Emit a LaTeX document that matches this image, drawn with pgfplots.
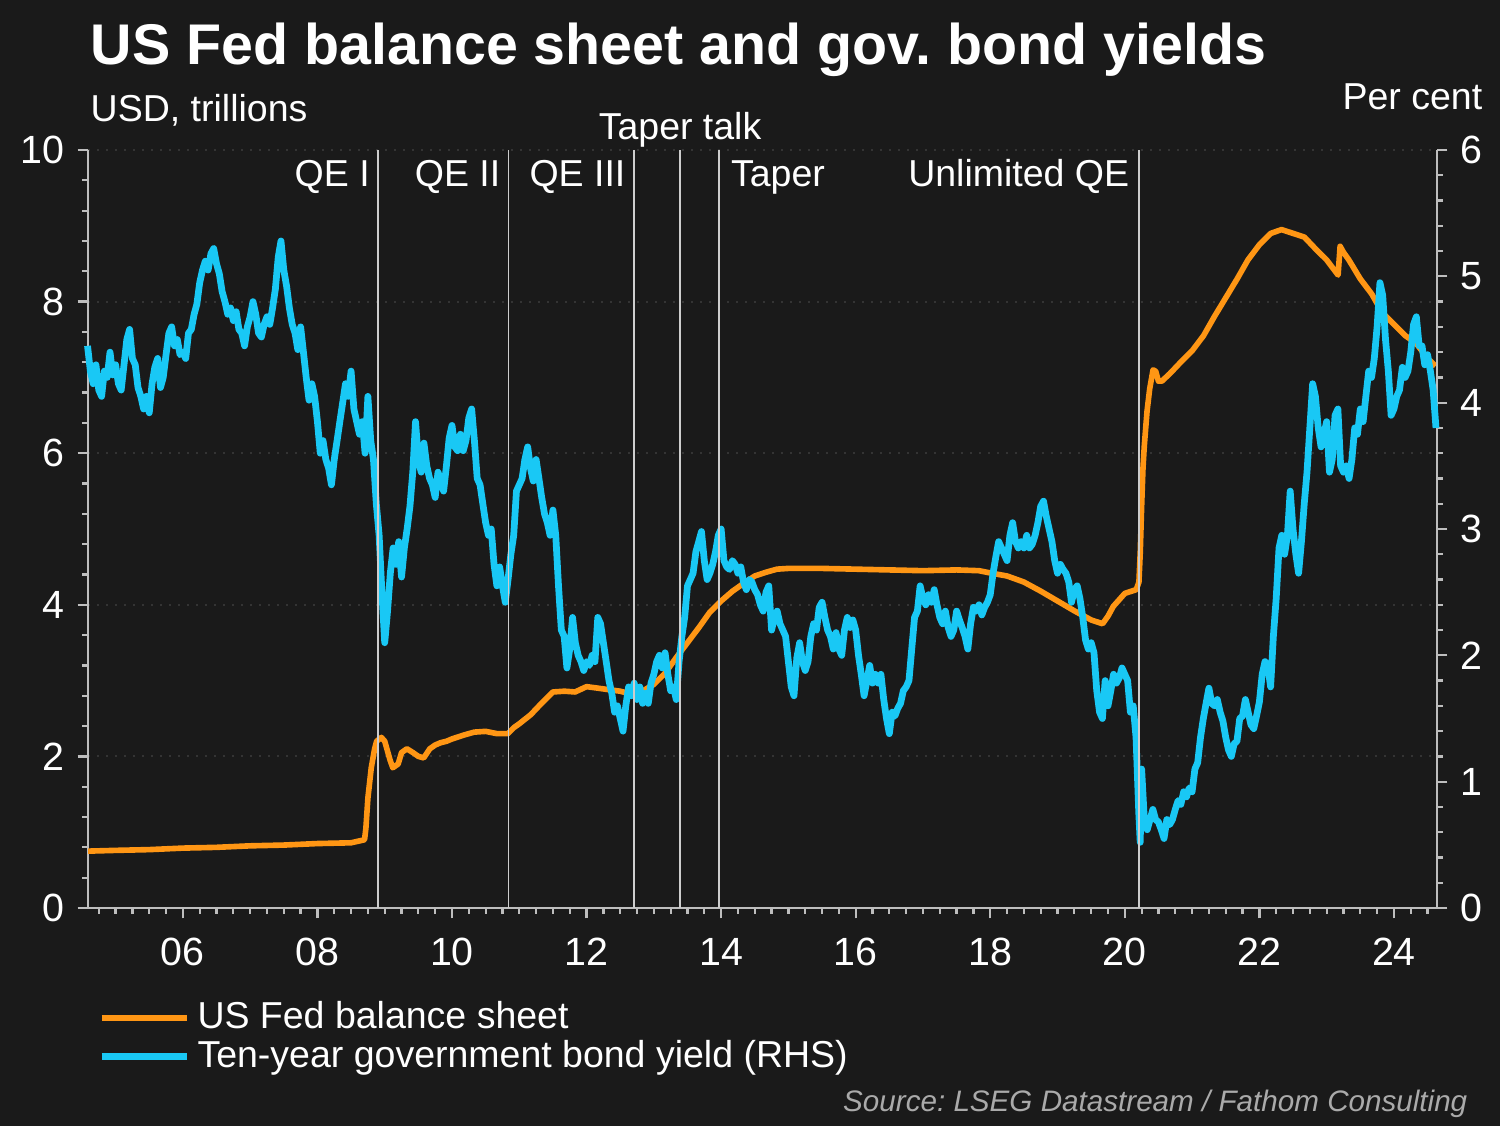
\documentclass[border=0pt]{standalone}
\usepackage{fontspec}
\setmainfont{Liberation Sans}
\usepackage{pgfplots}
\pgfplotsset{compat=1.18}

\definecolor{bg}{RGB}{26,26,26}
\definecolor{fedorange}{RGB}{255,150,20}
\definecolor{yieldcyan}{RGB}{25,200,245}
\definecolor{axisgray}{RGB}{190,190,190}
\definecolor{eventgray}{RGB}{205,205,205}
\definecolor{gridgray}{RGB}{52,52,52}
\definecolor{srcgray}{RGB}{170,170,170}

\pgfplotsset{
  common/.style={
    scale only axis, width=359.73pt, height=202.13pt,
    at={(0,0)}, anchor=south west,
    xmin=2004.59, xmax=2024.64,
    axis line style={axisgray, line width=0.7pt},
    tick style={axisgray, line width=0.6pt},
    tick align=outside,
    major tick length=2.8pt, minor tick length=1.5pt,
    ticklabel style={text=white, font=\fontsize{10.5}{12}\selectfont},
    /pgf/number format/assume math mode=true,
  }
}

\begin{document}
\begin{tikzpicture}[font=\fontsize{10}{12}\selectfont]
\path[use as bounding box] (-23.47pt,-58.13pt) rectangle (376.53pt,242.13pt);
\fill[bg] (-23.47pt,-58.13pt) rectangle (376.53pt,242.13pt);

% Fed balance sheet, USD trillions (left axis)
\begin{axis}[common,
  ymin=0, ymax=10, ytick={0,2,...,10}, minor y tick num=4,
  axis x line*=bottom, axis y line*=left,
  xtick={2006,2008,...,2024},
  xticklabels={06,08,10,12,14,16,18,20,22,24},
  xticklabel style={yshift=-1.7pt},
  minor xtick={2004.75,2005,...,2024.5},
  ymajorgrids, major grid style={gridgray, dotted, line width=0.5pt},
]
\addplot[fedorange, line width=1.5pt, line join=round] coordinates {
(2004.59,0.75) (2005.0,0.76) (2005.5,0.77) (2006.0,0.79) (2006.5,0.80)
(2007.0,0.82) (2007.5,0.83) (2008.0,0.85) (2008.5,0.86) (2008.70,0.90)
(2008.72,1.05) (2008.75,1.45) (2008.80,1.85) (2008.85,2.10) (2008.88,2.20)
(2008.95,2.25) (2009.0,2.20) (2009.08,1.95) (2009.12,1.85) (2009.2,1.90)
(2009.25,2.05) (2009.33,2.10) (2009.42,2.05) (2009.5,2.00) (2009.58,1.98)
(2009.67,2.10) (2009.75,2.15) (2009.83,2.18) (2009.92,2.20) (2010.0,2.23)
(2010.17,2.28) (2010.33,2.32) (2010.5,2.33) (2010.67,2.30) (2010.83,2.30)
(2010.92,2.38) (2011.0,2.43) (2011.17,2.55) (2011.33,2.70) (2011.5,2.85)
(2011.67,2.86) (2011.83,2.85) (2012.0,2.92) (2012.17,2.90) (2012.33,2.88)
(2012.5,2.86) (2012.67,2.82) (2012.83,2.86) (2013.0,2.95) (2013.17,3.10)
(2013.33,3.30) (2013.5,3.50) (2013.67,3.70) (2013.83,3.90) (2014.0,4.05)
(2014.17,4.18) (2014.33,4.28) (2014.5,4.38) (2014.67,4.43) (2014.83,4.47)
(2015.0,4.48) (2015.5,4.48) (2016.0,4.47) (2016.5,4.46) (2017.0,4.45)
(2017.5,4.46) (2017.83,4.45) (2018.0,4.42) (2018.25,4.38) (2018.5,4.30)
(2018.75,4.18) (2019.0,4.05) (2019.25,3.92) (2019.5,3.80) (2019.67,3.75)
(2019.75,3.85) (2019.83,3.98) (2020.0,4.15) (2020.17,4.20) (2020.21,4.30)
(2020.23,4.70) (2020.25,5.30) (2020.27,5.80) (2020.29,6.10) (2020.33,6.55)
(2020.37,6.85) (2020.42,7.10) (2020.46,7.08) (2020.50,6.95) (2020.55,6.95)
(2020.67,7.05) (2020.83,7.20) (2021.0,7.35) (2021.17,7.55) (2021.33,7.80)
(2021.5,8.05) (2021.67,8.30) (2021.83,8.55) (2022.0,8.75) (2022.17,8.90)
(2022.33,8.95) (2022.5,8.90) (2022.67,8.85) (2022.83,8.70) (2023.0,8.55)
(2023.17,8.35) (2023.2,8.73) (2023.25,8.65) (2023.33,8.55) (2023.5,8.30)
(2023.67,8.10) (2023.83,7.85) (2024.0,7.70) (2024.17,7.55) (2024.33,7.45)
(2024.5,7.25) (2024.62,7.15)
};
\end{axis}

% Ten-year government bond yield, per cent (right axis)
\begin{axis}[common,
  ymin=0, ymax=6, ytick={0,...,6}, minor y tick num=4,
  axis x line=none, axis y line*=right,
  clip=false,
  legend cell align=left,
  legend style={draw=none, fill=none, text=white,
    at={(0,0)}, anchor=north west, xshift=-0.5pt, yshift=-20.7pt,
    font=\fontsize{10}{12}\selectfont, row sep=-2.4pt},
  legend image code/.code={\draw[#1] (0pt,0pt) -- (22.7pt,0pt);},
]
\addlegendimage{fedorange, line width=1.5pt}
\addlegendentry{US Fed balance sheet}
\addplot[yieldcyan, line width=1.8pt, line join=round] table {
x y
2004.583 4.45
2004.625 4.25
2004.667 4.15
2004.708 4.30
2004.750 4.10
2004.792 4.05
2004.833 4.25
2004.875 4.20
2004.917 4.40
2004.958 4.22
2005.000 4.30
2005.042 4.15
2005.083 4.10
2005.125 4.30
2005.167 4.50
2005.208 4.58
2005.250 4.35
2005.292 4.30
2005.333 4.12
2005.375 4.05
2005.417 3.95
2005.458 4.05
2005.500 3.92
2005.542 4.15
2005.583 4.28
2005.625 4.35
2005.667 4.12
2005.708 4.20
2005.750 4.38
2005.792 4.55
2005.833 4.60
2005.875 4.45
2005.917 4.50
2005.958 4.38
2006.000 4.40
2006.042 4.35
2006.083 4.55
2006.125 4.58
2006.167 4.70
2006.208 4.78
2006.250 4.95
2006.292 5.05
2006.333 5.12
2006.375 5.05
2006.417 5.18
2006.458 5.22
2006.500 5.10
2006.542 5.02
2006.583 4.88
2006.625 4.80
2006.667 4.70
2006.708 4.75
2006.750 4.65
2006.792 4.72
2006.833 4.58
2006.875 4.55
2006.917 4.45
2006.958 4.60
2007.000 4.68
2007.042 4.80
2007.083 4.70
2007.125 4.55
2007.167 4.52
2007.208 4.62
2007.250 4.68
2007.292 4.62
2007.333 4.75
2007.375 4.90
2007.417 5.15
2007.458 5.28
2007.500 5.05
2007.542 4.92
2007.583 4.75
2007.625 4.62
2007.667 4.55
2007.708 4.42
2007.750 4.60
2007.792 4.40
2007.833 4.20
2007.875 4.02
2007.917 4.15
2007.958 4.05
2008.000 3.85
2008.042 3.60
2008.083 3.70
2008.125 3.55
2008.167 3.48
2008.208 3.35
2008.250 3.55
2008.292 3.70
2008.333 3.85
2008.375 4.00
2008.417 4.15
2008.458 4.05
2008.500 4.25
2008.542 3.95
2008.583 3.85
2008.625 3.75
2008.667 3.85
2008.708 3.60
2008.750 4.05
2008.792 3.70
2008.833 3.55
2008.875 3.20
2008.917 2.95
2008.958 2.50
2009.000 2.10
2009.042 2.35
2009.083 2.65
2009.125 2.85
2009.167 2.72
2009.208 2.90
2009.250 2.62
2009.292 2.85
2009.333 3.00
2009.375 3.18
2009.417 3.45
2009.458 3.85
2009.500 3.55
2009.542 3.45
2009.583 3.68
2009.625 3.50
2009.667 3.40
2009.708 3.35
2009.750 3.25
2009.792 3.45
2009.833 3.38
2009.875 3.30
2009.917 3.50
2009.958 3.72
2010.000 3.82
2010.042 3.65
2010.083 3.62
2010.125 3.75
2010.167 3.62
2010.208 3.70
2010.250 3.88
2010.292 3.95
2010.333 3.70
2010.375 3.40
2010.417 3.35
2010.458 3.20
2010.500 3.05
2010.542 2.95
2010.583 3.00
2010.625 2.72
2010.667 2.55
2010.708 2.70
2010.750 2.55
2010.792 2.42
2010.833 2.60
2010.875 2.80
2010.917 2.95
2010.958 3.30
2011.000 3.35
2011.042 3.40
2011.083 3.55
2011.125 3.65
2011.167 3.48
2011.208 3.38
2011.250 3.55
2011.292 3.40
2011.333 3.25
2011.375 3.12
2011.417 3.05
2011.458 2.95
2011.500 3.15
2011.542 2.95
2011.583 2.55
2011.625 2.20
2011.667 2.15
2011.708 1.90
2011.750 2.05
2011.792 2.30
2011.833 2.10
2011.875 2.00
2011.917 1.95
2011.958 1.88
2012.000 1.95
2012.042 1.92
2012.083 2.00
2012.125 1.95
2012.167 2.30
2012.208 2.25
2012.250 2.10
2012.292 1.95
2012.333 1.80
2012.375 1.70
2012.417 1.55
2012.458 1.60
2012.500 1.50
2012.542 1.40
2012.583 1.60
2012.625 1.75
2012.667 1.68
2012.708 1.78
2012.750 1.65
2012.792 1.75
2012.833 1.62
2012.875 1.70
2012.917 1.62
2012.958 1.78
2013.000 1.85
2013.042 1.95
2013.083 2.00
2013.125 1.90
2013.167 2.02
2013.208 1.85
2013.250 1.72
2013.292 1.75
2013.333 1.65
2013.375 1.95
2013.417 2.15
2013.458 2.30
2013.500 2.55
2013.542 2.60
2013.583 2.65
2013.625 2.82
2013.667 2.90
2013.708 2.98
2013.750 2.75
2013.792 2.60
2013.833 2.65
2013.875 2.72
2013.917 2.82
2013.958 2.95
2014.000 3.00
2014.042 2.75
2014.083 2.70
2014.125 2.68
2014.167 2.75
2014.208 2.72
2014.250 2.65
2014.292 2.70
2014.333 2.58
2014.375 2.52
2014.417 2.60
2014.458 2.58
2014.500 2.52
2014.542 2.48
2014.583 2.40
2014.625 2.35
2014.667 2.50
2014.708 2.55
2014.750 2.20
2014.792 2.30
2014.833 2.35
2014.875 2.25
2014.917 2.20
2014.958 2.15
2015.000 1.95
2015.042 1.75
2015.083 1.68
2015.125 1.98
2015.167 2.10
2015.208 1.95
2015.250 1.88
2015.292 1.95
2015.333 2.15
2015.375 2.25
2015.417 2.20
2015.458 2.38
2015.500 2.42
2015.542 2.30
2015.583 2.20
2015.625 2.15
2015.667 2.05
2015.708 2.18
2015.750 2.05
2015.792 2.00
2015.833 2.20
2015.875 2.30
2015.917 2.22
2015.958 2.28
2016.000 2.20
2016.042 2.00
2016.083 1.85
2016.125 1.68
2016.167 1.80
2016.208 1.92
2016.250 1.78
2016.292 1.85
2016.333 1.78
2016.375 1.85
2016.417 1.65
2016.458 1.50
2016.500 1.38
2016.542 1.55
2016.583 1.52
2016.625 1.58
2016.667 1.62
2016.708 1.72
2016.750 1.75
2016.792 1.80
2016.833 2.05
2016.875 2.30
2016.917 2.35
2016.958 2.55
2017.000 2.45
2017.042 2.40
2017.083 2.48
2017.125 2.42
2017.167 2.52
2017.208 2.40
2017.250 2.30
2017.292 2.25
2017.333 2.35
2017.375 2.22
2017.417 2.15
2017.458 2.20
2017.500 2.35
2017.542 2.28
2017.583 2.22
2017.625 2.15
2017.667 2.05
2017.708 2.25
2017.750 2.38
2017.792 2.35
2017.833 2.40
2017.875 2.32
2017.917 2.38
2017.958 2.42
2018.000 2.48
2018.042 2.65
2018.083 2.78
2018.125 2.90
2018.167 2.85
2018.208 2.80
2018.250 2.75
2018.292 2.95
2018.333 3.05
2018.375 2.90
2018.417 2.85
2018.458 2.90
2018.500 2.85
2018.542 2.95
2018.583 2.85
2018.625 2.88
2018.667 2.95
2018.708 3.05
2018.750 3.18
2018.792 3.22
2018.833 3.10
2018.875 3.00
2018.917 2.90
2018.958 2.75
2019.000 2.65
2019.042 2.72
2019.083 2.68
2019.125 2.65
2019.167 2.58
2019.208 2.42
2019.250 2.52
2019.292 2.55
2019.333 2.45
2019.375 2.30
2019.417 2.12
2019.458 2.05
2019.500 2.10
2019.542 2.02
2019.583 1.72
2019.625 1.55
2019.667 1.50
2019.708 1.80
2019.750 1.60
2019.792 1.72
2019.833 1.85
2019.875 1.78
2019.917 1.82
2019.958 1.90
2020.000 1.85
2020.042 1.80
2020.083 1.55
2020.125 1.60
2020.167 1.35
2020.208 0.75
2020.229 0.52
2020.250 1.10
2020.292 0.68
2020.333 0.62
2020.375 0.70
2020.417 0.78
2020.458 0.70
2020.500 0.68
2020.542 0.62
2020.583 0.55
2020.625 0.70
2020.667 0.66
2020.708 0.70
2020.750 0.78
2020.792 0.85
2020.833 0.82
2020.875 0.92
2020.917 0.88
2020.958 0.95
2021.000 0.92
2021.042 1.10
2021.083 1.15
2021.125 1.35
2021.167 1.50
2021.208 1.62
2021.250 1.74
2021.292 1.62
2021.333 1.60
2021.375 1.65
2021.417 1.55
2021.458 1.48
2021.500 1.35
2021.542 1.25
2021.583 1.20
2021.625 1.30
2021.667 1.32
2021.708 1.50
2021.750 1.52
2021.792 1.65
2021.833 1.55
2021.875 1.45
2021.917 1.42
2021.958 1.52
2022.000 1.63
2022.042 1.85
2022.083 1.95
2022.125 1.92
2022.167 1.75
2022.208 2.15
2022.250 2.45
2022.292 2.85
2022.333 2.95
2022.375 2.80
2022.417 2.95
2022.458 3.30
2022.500 3.00
2022.542 2.80
2022.583 2.65
2022.625 2.90
2022.667 3.20
2022.708 3.45
2022.750 3.80
2022.792 4.15
2022.833 4.05
2022.875 3.80
2022.917 3.65
2022.958 3.75
2023.000 3.85
2023.042 3.45
2023.083 3.55
2023.125 3.90
2023.167 3.95
2023.208 3.50
2023.250 3.45
2023.292 3.50
2023.333 3.40
2023.375 3.55
2023.417 3.80
2023.458 3.75
2023.500 3.95
2023.542 3.85
2023.583 4.05
2023.625 4.25
2023.667 4.20
2023.708 4.35
2023.750 4.60
2023.792 4.95
2023.833 4.85
2023.875 4.50
2023.917 4.25
2023.958 3.90
2024.000 3.95
2024.042 4.05
2024.083 4.10
2024.125 4.28
2024.167 4.20
2024.208 4.25
2024.250 4.40
2024.292 4.62
2024.333 4.68
2024.375 4.45
2024.417 4.45
2024.458 4.30
2024.500 4.38
2024.542 4.25
2024.583 4.10
2024.625 3.80
};
\addlegendentry{Ten-year government bond yield (RHS)}

% policy event markers
\addplot[eventgray, line width=0.5pt, forget plot] coordinates {(2008.90,0) (2008.90,6)};
\addplot[eventgray, line width=0.5pt, forget plot] coordinates {(2010.84,0) (2010.84,6)};
\addplot[eventgray, line width=0.5pt, forget plot] coordinates {(2012.70,0) (2012.70,6)};
\addplot[eventgray, line width=0.5pt, forget plot] coordinates {(2013.39,0) (2013.39,6)};
\addplot[eventgray, line width=0.5pt, forget plot] coordinates {(2013.97,0) (2013.97,6)};
\addplot[eventgray, line width=0.5pt, forget plot] coordinates {(2020.21,0) (2020.21,6)};

\node[anchor=base east, inner sep=0pt, text=white, xshift=-2pt] at (axis cs:2008.90,5.71) {QE I};
\node[anchor=base east, inner sep=0pt, text=white, xshift=-2pt] at (axis cs:2010.84,5.71) {QE II};
\node[anchor=base east, inner sep=0pt, text=white, xshift=-2pt] at (axis cs:2012.70,5.71) {QE III};
\node[anchor=base, inner sep=0pt, text=white] at (axis cs:2013.39,6.08) {Taper talk};
\node[anchor=base west, inner sep=0pt, text=white, xshift=3pt] at (axis cs:2013.97,5.71) {Taper};
\node[anchor=base east, inner sep=0pt, text=white, xshift=-2.4pt] at (axis cs:2020.21,5.71) {Unlimited QE};
\end{axis}

% headings and source
\node[anchor=base west, inner sep=0pt, text=white, font=\fontsize{15.3}{18}\selectfont\bfseries] at (0.53pt,224.8pt) {US Fed balance sheet and gov.\ bond yields};
\node[anchor=base west, inner sep=0pt, text=white] at (0.53pt,209.6pt) {USD, trillions};
\node[anchor=base east, inner sep=0pt, text=white] at (372pt,212.8pt) {Per cent};
\node[anchor=base east, inner sep=0pt, text=srcgray, font=\fontsize{7.9}{9}\selectfont\itshape] at (368pt,-54.4pt) {Source:\ LSEG Datastream / Fathom Consulting};
\end{tikzpicture}
\end{document}
